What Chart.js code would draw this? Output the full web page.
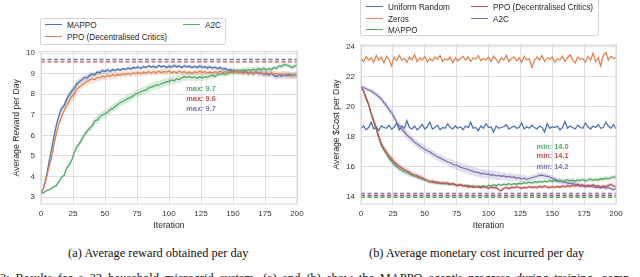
<!DOCTYPE html>
<html>
<head>
<meta charset="utf-8">
<script src="https://cdn.jsdelivr.net/npm/chart.js@4.4.1/dist/chart.umd.min.js"></script>
<style>
  body { margin: 0; background: #fff; width: 640px; height: 277px; overflow: hidden; position: relative; }
  canvas { position: absolute; top: 0; }
  .leg { position: absolute; background: #fff; border: 1px solid #d6d6d6; border-radius: 2px; font-family: 'Liberation Sans', Arial, sans-serif; font-size: 8.2px; color: #262626; }
  .it { position: absolute; white-space: nowrap; line-height: 10px; }
  .it i { display: inline-block; width: 17px; height: 0; border-top: 1.4px solid; vertical-align: middle; margin-right: 5px; position: relative; top: -1px; }
  .cap { position: absolute; font-family: 'Liberation Serif', 'DejaVu Serif', 'Times New Roman', serif; font-size: 12.4px; color: #111; white-space: nowrap; }
</style>
</head>
<body>
<canvas id="chartA" width="320" height="240" style="left:0"></canvas>
<canvas id="chartB" width="320" height="240" style="left:320px"></canvas>

<div class="leg" style="left:40px;top:18px;width:184px;height:25px">
  <div class="it" style="left:4px;top:2px"><i style="color:#4c72b0"></i>MAPPO</div>
  <div class="it" style="left:4px;top:13.5px"><i style="color:#dd8452"></i>PPO (Decentralised Critics)</div>
  <div class="it" style="left:142px;top:2px"><i style="color:#55a868"></i>A2C</div>
</div>
<div class="leg" style="left:360px;top:-1px;width:237px;height:35px">
  <div class="it" style="left:5px;top:3px"><i style="color:#4c72b0"></i>Uniform Random</div>
  <div class="it" style="left:5px;top:14.5px"><i style="color:#dd8452"></i>Zeros</div>
  <div class="it" style="left:5px;top:26px"><i style="color:#55a868"></i>MAPPO</div>
  <div class="it" style="left:110px;top:3px"><i style="color:#c44e52"></i>PPO (Decentralised Critics)</div>
  <div class="it" style="left:110px;top:14.5px"><i style="color:#8172b3"></i>A2C</div>
</div>

<div class="cap" style="left:68px;top:246px">(a) Average reward obtained per day</div>
<div class="cap" style="left:369px;top:246px">(b) Average monetary cost incurred per day</div>
<div class="cap" style="left:0;top:271px;word-spacing:2.8px">3: Results for a 32 household microgrid system. (a) and (b) show the MAPPO agent's progress during training, comp</div>

<script>
// iterations (every 2nd one)
const iters = [0,2,4,6,8,10,12,14,16,18,20,22,24,26,28,30,32,34,36,38,40,42,44,46,48,50,52,54,56,58,60,62,64,66,68,70,72,74,76,78,80,82,84,86,88,90,92,94,96,98,100,102,104,106,108,110,112,114,116,118,120,122,124,126,128,130,132,134,136,138,140,142,144,146,148,150,152,154,156,158,160,162,164,166,168,170,172,174,176,178,180,182,184,186,188,190,192,194,196,198,200];
const xTicks = [0,25,50,75,100,125,150,175,200];
const rewardTicks = [3,4,5,6,7,8,9,10];
const costTicks = [14,16,18,20,22,24];

// (a) average reward per day
const rewardMappo = [3.17,3.45,3.95,4.6,5.25,5.9,6.5,6.95,7.3,7.45,7.75,7.95,8.15,8.3,8.5,8.62,8.7,8.82,8.8,8.92,8.98,8.95,9.08,9.05,9.15,9.1,9.18,9.12,9.2,9.15,9.22,9.17,9.25,9.2,9.28,9.22,9.3,9.27,9.33,9.25,9.35,9.3,9.38,9.32,9.36,9.3,9.4,9.33,9.38,9.3,9.36,9.32,9.4,9.34,9.37,9.3,9.38,9.33,9.36,9.29,9.35,9.3,9.37,9.31,9.34,9.28,9.33,9.27,9.32,9.25,9.3,9.22,9.25,9.17,9.2,9.12,9.15,9.08,9.12,9.05,9.1,9.03,9.07,9.0,9.08,9.02,9.05,8.97,9.0,8.95,9.02,8.92,8.86,8.93,8.88,8.95,8.9,8.97,8.9,8.94,8.92];
const rewardPpo = [3.2,3.4,3.85,4.4,4.85,5.5,6.1,6.55,6.9,7.2,7.45,7.65,7.88,8.0,8.25,8.35,8.45,8.55,8.62,8.7,8.75,8.72,8.82,8.8,8.88,8.84,8.92,8.87,8.95,8.9,8.96,8.92,9.0,8.95,9.02,8.96,9.05,9.0,9.06,9.0,9.08,9.03,9.1,9.04,9.1,9.05,9.12,9.06,9.1,9.08,9.12,9.05,9.1,9.04,9.12,9.06,9.1,9.03,9.08,9.02,9.1,9.05,9.12,9.06,9.1,9.04,9.08,9.02,9.1,9.05,9.12,9.06,9.1,9.04,9.12,9.07,9.13,9.05,9.1,9.02,9.08,9.0,9.07,9.02,9.1,9.03,9.08,9.0,9.05,8.98,9.04,8.96,9.02,8.94,9.0,8.92,8.98,8.88,8.95,8.9,8.97];
const rewardA2c = [3.24,3.2,3.3,3.35,3.4,3.5,3.55,3.75,3.95,4.05,4.4,4.55,4.8,5.15,5.45,5.6,5.8,6.05,6.2,6.35,6.45,6.7,6.75,6.9,7.0,7.05,7.12,7.25,7.3,7.42,7.5,7.6,7.65,7.72,7.8,7.85,7.92,8.02,8.05,8.12,8.18,8.2,8.3,8.35,8.38,8.45,8.44,8.52,8.55,8.6,8.62,8.7,8.66,8.75,8.72,8.8,8.85,8.82,8.86,8.8,8.84,8.78,8.85,8.8,8.86,8.82,8.9,8.92,8.88,8.96,8.98,9.0,8.96,9.04,9.06,9.1,9.08,9.14,9.1,9.18,9.16,9.2,9.15,9.22,9.18,9.25,9.2,9.26,9.18,9.24,9.2,9.3,9.26,9.38,9.35,9.45,9.42,9.38,9.3,9.36,9.42];
// spread of the shaded band, one value per 10 iterations
const rewardMappoSpread = [0.05,0.15,0.2,0.15,0.12,0.1,0.08,0.08,0.08,0.08,0.1,0.1,0.1,0.1,0.1,0.12,0.12,0.15,0.15,0.15,0.15];
const rewardPpoSpread = [0.05,0.15,0.25,0.2,0.2,0.18,0.15,0.15,0.15,0.15,0.12,0.12,0.12,0.12,0.12,0.15,0.15,0.15,0.15,0.18,0.18];
const rewardA2cSpread = [0.05,0.08,0.12,0.15,0.2,0.2,0.2,0.2,0.2,0.2,0.2,0.18,0.18,0.15,0.15,0.15,0.15,0.12,0.12,0.12,0.12];
const rewardMax = [9.70, 9.58, 9.68];          // green, red, purple dashed lines
const rewardMaxLabels = ['max: 9.7', 'max: 9.6', 'max: 9.7'];

// (b) average $cost per day
const costRandom = [18.55,18.7,18.45,18.6,18.95,18.5,18.65,18.4,18.7,18.6,18.55,18.75,18.5,18.62,18.9,18.45,18.7,18.55,19.05,18.6,18.5,18.7,18.45,18.6,18.8,18.5,18.65,18.95,18.5,18.6,18.75,18.45,18.6,18.55,18.85,18.6,18.5,18.7,18.55,18.65,18.45,18.7,18.6,18.95,18.55,18.6,18.4,18.7,18.55,18.85,18.6,18.65,18.3,18.7,18.55,18.6,18.65,18.8,18.5,18.6,18.7,18.55,18.6,18.9,18.5,18.65,18.55,18.75,18.6,18.5,18.7,18.6,18.3,18.85,18.55,18.65,18.6,18.7,18.45,18.6,19.0,18.55,18.7,18.6,18.5,18.75,18.6,18.55,18.9,18.65,18.5,18.7,18.6,18.8,18.55,18.6,18.95,18.7,18.55,18.8,18.5];
const costZeros = [23.2,23.0,23.3,23.1,23.25,22.95,23.4,23.1,23.3,22.9,23.35,23.15,22.7,23.3,23.05,23.4,23.1,23.2,22.95,23.3,23.1,23.45,23.0,23.25,23.1,23.35,22.95,23.2,23.05,23.3,23.15,23.4,23.0,23.2,23.1,23.3,22.9,23.25,23.05,23.2,23.35,23.1,23.3,23.0,23.25,23.15,23.4,23.05,23.2,23.1,23.3,23.0,23.35,23.15,22.9,23.25,23.1,23.4,23.0,23.2,23.3,23.05,23.25,22.95,23.35,23.1,23.2,22.6,23.05,23.3,23.1,23.4,23.0,23.25,23.15,23.3,22.95,23.2,23.1,23.35,23.0,23.25,23.45,23.1,22.9,23.3,23.15,23.2,22.95,23.35,23.1,23.55,23.0,23.25,22.7,23.4,23.6,23.1,23.35,23.2,23.25];
const costMappo = [21.3,21.0,20.5,20.1,19.5,19.0,18.5,17.9,17.4,17.1,16.85,16.55,16.35,16.15,16.0,15.85,15.75,15.65,15.6,15.5,15.42,15.35,15.3,15.22,15.18,15.1,15.05,15.0,14.95,14.98,14.9,14.88,14.85,14.9,14.82,14.8,14.85,14.78,14.75,14.8,14.72,14.7,14.75,14.68,14.72,14.65,14.7,14.66,14.72,14.65,14.75,14.7,14.78,14.72,14.8,14.75,14.82,14.78,14.85,14.8,14.86,14.82,14.88,14.85,14.92,14.88,14.95,14.9,14.98,14.94,15.0,14.96,15.02,14.98,15.05,15.0,15.08,15.02,15.06,15.0,15.05,15.1,15.04,15.08,15.02,15.1,15.06,15.12,15.05,15.1,15.15,15.08,15.14,15.1,15.18,15.15,15.22,15.18,15.25,15.3,15.28];
const costPpo = [21.3,21.05,20.6,20.15,19.55,19.05,18.55,17.95,17.5,17.2,16.95,16.7,16.5,16.3,16.15,16.0,15.9,15.78,15.7,15.6,15.5,15.45,15.38,15.3,15.25,15.15,15.05,14.98,15.02,14.92,14.95,14.88,14.92,14.85,14.9,14.82,14.86,14.78,14.72,14.8,14.7,14.75,14.62,14.68,14.6,14.66,14.62,14.58,14.65,14.6,14.55,14.62,14.58,14.6,14.45,14.38,14.55,14.6,14.52,14.62,14.58,14.65,14.6,14.55,14.62,14.58,14.66,14.6,14.64,14.58,14.68,14.62,14.7,14.62,14.6,14.66,14.6,14.68,14.62,14.7,14.65,14.72,14.66,14.75,14.7,14.78,14.68,14.72,14.65,14.75,14.7,14.78,14.68,14.72,14.62,14.7,14.66,14.74,14.8,14.7,14.65];
const costA2c = [21.35,21.25,21.2,21.1,21.05,20.9,20.8,20.65,20.5,20.25,20.05,19.8,19.6,19.3,18.95,18.7,18.5,18.3,18.1,17.95,17.8,17.62,17.5,17.38,17.25,17.15,17.05,16.98,16.85,16.75,16.65,16.58,16.48,16.4,16.3,16.25,16.15,16.1,16.05,15.95,15.9,15.85,15.8,15.72,15.68,15.62,15.6,15.52,15.55,15.48,15.5,15.42,15.45,15.38,15.4,15.35,15.38,15.3,15.34,15.28,15.3,15.22,15.26,15.18,15.22,15.15,15.2,15.25,15.3,15.35,15.4,15.42,15.38,15.35,15.3,15.22,15.15,15.08,15.02,14.98,14.95,14.9,14.88,14.85,14.82,14.8,14.75,14.78,14.72,14.68,14.7,14.65,14.6,14.62,14.58,14.62,14.55,14.6,14.52,14.45,14.55];
const costMappoSpread = [0.1,0.2,0.2,0.2,0.15,0.12,0.1,0.1,0.08,0.08,0.1,0.1,0.1,0.12,0.12,0.15,0.15,0.15,0.15,0.15,0.15];
const costPpoSpread = [0.1,0.25,0.25,0.2,0.18,0.15,0.15,0.12,0.1,0.1,0.1,0.1,0.1,0.1,0.1,0.1,0.12,0.12,0.12,0.12,0.12];
const costA2cSpread = [0.15,0.2,0.25,0.3,0.25,0.25,0.25,0.3,0.3,0.3,0.3,0.25,0.25,0.2,0.2,0.2,0.15,0.15,0.12,0.12,0.12];
const costMin = [13.95, 14.08, 14.2];          // green, red, purple dashed lines
const costMinLabels = ['min: 14.0', 'min: 14.1', 'min: 14.2'];

const BLUE = '#4c72b0', ORANGE = '#dd8452', GREEN = '#55a868', RED = '#c44e52', PURPLE = '#8172b3';
const GRID = '#dedede';
const FONT = "'Liberation Sans', Arial, sans-serif";

function pts(vals) { return vals.map((v, i) => ({ x: iters[i], y: v })); }

function line(vals, color, order) {
  return { data: pts(vals), borderColor: color, borderWidth: 1.3, pointRadius: 0, fill: false, order: order };
}

// shaded band = two invisible lines, the upper one filled down to the lower
function band(vals, spread, color) {
  const lo = vals.map((v, i) => ({ x: iters[i], y: v - spread[Math.floor(i / 5)] }));
  const hi = vals.map((v, i) => ({ x: iters[i], y: v + spread[Math.floor(i / 5)] }));
  return [
    { data: lo, borderWidth: 0, pointRadius: 0, fill: false, order: 20 },
    { data: hi, borderWidth: 0, pointRadius: 0, fill: '-1', backgroundColor: color, order: 20 }
  ];
}

function dashed(v, color) {
  return { data: [{ x: 0, y: v }, { x: 200, y: v }], borderColor: color, borderWidth: 1.3,
           borderDash: [4, 2.5], pointRadius: 0, fill: false, order: 1 };
}

// light box around the plot area, like seaborn whitegrid
const frame = {
  id: 'frame',
  afterDraw(chart) {
    const a = chart.chartArea, c = chart.ctx;
    c.save();
    c.strokeStyle = '#d4d4d4';
    c.lineWidth = 1;
    c.strokeRect(a.left, a.top, a.right - a.left, a.bottom - a.top);
    c.restore();
  }
};

// coloured "max:" / "min:" notes
function notes(labels, colors, at) {
  return {
    id: 'notes',
    afterDatasetsDraw(chart) {
      const c = chart.ctx, xs = chart.scales.x, ys = chart.scales.y;
      c.save();
      c.font = 'bold 7.4px ' + FONT;
      c.textAlign = 'left';
      c.textBaseline = 'middle';
      labels.forEach((t, k) => {
        c.fillStyle = colors[k];
        c.fillText(t, xs.getPixelForValue(at.x), ys.getPixelForValue(at.y[k]));
      });
      c.restore();
    }
  };
}

function options(yMin, yMax, yTicks, yTitle, padRight, padTop) {
  return {
    responsive: false,
    animation: false,
    layout: { padding: { left: 0, right: padRight, top: padTop, bottom: 0 } },
    plugins: { legend: { display: false }, tooltip: { enabled: false } },
    scales: {
      x: {
        type: 'linear', min: 0, max: 200,
        afterBuildTicks: s => { s.ticks = xTicks.map(v => ({ value: v })); },
        afterFit: s => { s.height = 36; },
        grid: { color: GRID, drawTicks: false },
        border: { display: false },
        ticks: { padding: 5, maxRotation: 0, autoSkip: false, color: '#333', font: { family: FONT, size: 8 } },
        title: { display: true, text: 'Iteration', color: '#262626', font: { family: FONT, size: 8.7 }, padding: { top: 0, bottom: 9 } }
      },
      y: {
        type: 'linear', min: yMin, max: yMax,
        afterBuildTicks: s => { s.ticks = yTicks.map(v => ({ value: v })); },
        afterFit: s => { s.width = 41; },
        grid: { color: GRID, drawTicks: false },
        border: { display: false },
        ticks: { padding: 6, color: '#333', font: { family: FONT, size: 8 } },
        title: { display: true, text: yTitle, color: '#262626', font: { family: FONT, size: 8.7 }, padding: { top: 11, bottom: 0 } }
      }
    }
  };
}

new Chart(document.getElementById('chartA'), {
  type: 'line',
  data: {
    datasets: [
      ...band(rewardMappo, rewardMappoSpread, 'rgba(76,114,176,0.22)'),
      ...band(rewardPpo, rewardPpoSpread, 'rgba(221,132,82,0.22)'),
      ...band(rewardA2c, rewardA2cSpread, 'rgba(85,168,104,0.22)'),
      line(rewardA2c, GREEN, 4),
      line(rewardPpo, ORANGE, 3),
      line(rewardMappo, BLUE, 5),
      dashed(rewardMax[2], PURPLE),
      dashed(rewardMax[1], RED),
      dashed(rewardMax[0], GREEN)
    ]
  },
  options: options(2.66, 10.08, rewardTicks, 'Average Reward per Day', 23, 51.5),
  plugins: [frame, notes(rewardMaxLabels, [GREEN, RED, PURPLE], { x: 113.5, y: [8.28, 7.79, 7.3] })]
});

new Chart(document.getElementById('chartB'), {
  type: 'line',
  data: {
    datasets: [
      ...band(costMappo, costMappoSpread, 'rgba(85,168,104,0.22)'),
      ...band(costPpo, costPpoSpread, 'rgba(196,78,82,0.22)'),
      ...band(costA2c, costA2cSpread, 'rgba(129,114,179,0.22)'),
      line(costRandom, BLUE, 8),
      line(costZeros, ORANGE, 8),
      line(costA2c, PURPLE, 6),
      line(costMappo, GREEN, 5),
      line(costPpo, RED, 4),
      dashed(costMin[2], PURPLE),
      dashed(costMin[1], RED),
      dashed(costMin[0], GREEN)
    ]
  },
  options: options(13.5, 24.1, costTicks, 'Average $Cost per Day', 24, 45),
  plugins: [frame, notes(costMinLabels, [GREEN, RED, PURPLE], { x: 137.7, y: [17.29, 16.71, 16.0] })]
});
</script>
</body>
</html>
